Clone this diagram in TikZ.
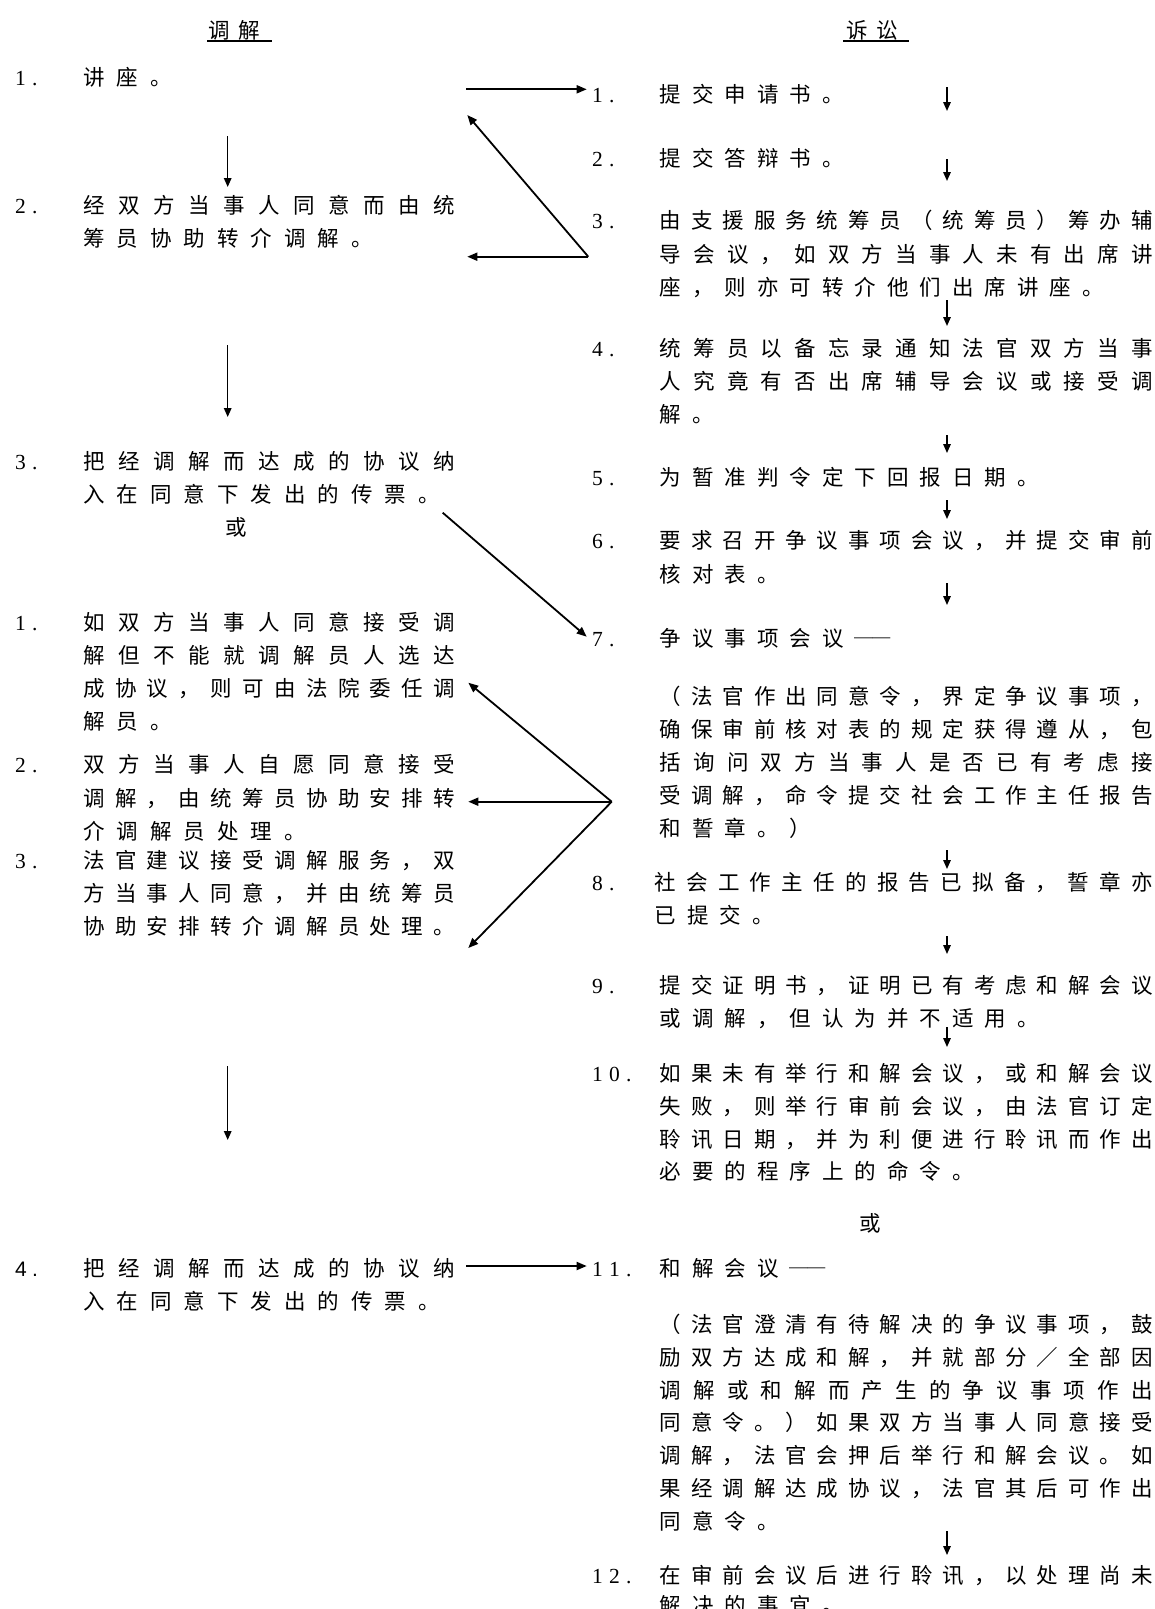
\documentclass[tikz,border=0pt]{standalone}
\usepackage{fontspec}
\usepackage{graphicx}
\setmainfont{Liberation Serif}
\newfontfamily\cjk{Noto Sans CJK SC}
\newfontfamily\sansnum{Liberation Sans}
\usetikzlibrary{arrows.meta}

\makeatletter
\def\jz@end{\jz@end}
\newdimen\jz@pitch
\newcommand\Nsp[2]{\jz@pitch=#1\relax\jz@fix#2\jz@end}
\def\jz@fix#1{\ifx#1\jz@end\else\hbox to\jz@pitch{#1\hss}\expandafter\jz@fix\fi}
\newcommand\Jsp[2]{\hbox to #1{\jz@jfirst#2\jz@end}}
\def\jz@jfirst#1{#1\jz@jrest}
\def\jz@jrest#1{\ifx#1\jz@end\else\hfill#1\expandafter\jz@jrest\fi}
\makeatother

\def\mydash{\scalebox{0.85}[1]{──}}
\def\WL{372pt}\def\PL{33.5pt}\def\WR{493pt}\def\PR{32.5pt}

\tikzset{
  txt/.style={inner sep=0pt, anchor=west, font=\cjk\fontsize{21.5}{21.5}\selectfont, text height=19pt, text depth=2.6pt},
  txtc/.style={txt, anchor=center},
  numtxt/.style={inner sep=0pt, anchor=west, font=\fontsize{21.5}{21.5}\selectfont, text height=19pt, text depth=2.6pt},
  bigarr/.style={line width=1.8pt, -{Triangle[length=10pt,width=8pt]}},
  downarr/.style={line width=1.5pt, -{Triangle[length=9pt,width=7.5pt]}},
  uline/.style={line width=1.3pt},
}

\newcommand\mLJ[3]{\node[txt] (#1) at (83,#2) {\Jsp{\WL}{#3}};}
\newcommand\mLN[3]{\node[txt] (#1) at (83,#2) {\Nsp{\PL}{#3}};}
\newcommand\mRJ[3]{\node[txt] (#1) at (659.5,#2) {\Jsp{\WR}{#3}};}
\newcommand\mRN[3]{\node[txt] (#1) at (659.5,#2) {\Nsp{\PR}{#3}};}
\newcommand\mLNum[3]{\node[numtxt] (#1) at (15,#2) {\Nsp{17pt}{#3}};}
\newcommand\mRNum[3]{\node[numtxt] (#1) at (592,#2) {\Nsp{17pt}{#3}};}

\begin{document}
\begin{tikzpicture}[x=1pt,y=-1pt]
\useasboundingbox (0,0) rectangle (1155,1609);
\fill[white] (0,0) rectangle (1155,1609);

% ---------- headers ----------
\node[txt] (lh) at (208,30) {\Nsp{30.5pt}{调解}};
\draw[uline] ([xshift=-1pt]lh.south west) -- ([xshift=3pt]lh.south east);
\node[txt] (rh) at (846,30) {\Nsp{30.5pt}{诉讼}};
\draw[uline] ([xshift=-3pt]rh.south west) -- ([xshift=2pt]rh.south east);

% ---------- left column ----------
\mLNum{ln1}{77}{1.}
\mLN{l1a}{77}{讲座。}
\mLNum{ln2}{205}{2.}
\mLJ{l2a}{205}{经双方当事人同意而由统}
\mLN{l2b}{238}{筹员协助转介调解。}
\mLNum{ln3}{461}{3.}
\mLJ{l3a}{461}{把经调解而达成的协议纳}
\mLN{l3b}{494}{入在同意下发出的传票。}
\node[txtc] (lor) at (236,527) {或};
\mLNum{ln1b}{622}{1.}
\mLJ{l1ba}{622}{如双方当事人同意接受调}
\mLJ{l1bb}{655}{解但不能就调解员人选达}
\mLJ{l1bc}{688}{成协议，则可由法院委任调}
\mLN{l1bd}{721}{解员。}
\mLNum{ln2b}{764}{2.}
\mLJ{l2ba}{764}{双方当事人自愿同意接受}
\mLJ{l2bb}{798}{调解，由统筹员协助安排转}
\mLN{l2bc}{831}{介调解员处理。}
\mLNum{ln3b}{860}{3.}
\mLJ{l3ba}{860}{法官建议接受调解服务，双}
\mLJ{l3bb}{893}{方当事人同意，并由统筹员}
\mLJ{l3bc}{926}{协助安排转介调解员处理。}
\node[numtxt, font=\sansnum\fontsize{21}{21}\selectfont] (ln4) at (15,1268) {\Nsp{17pt}{4.}};
\mLJ{l4a}{1268}{把经调解而达成的协议纳}
\mLN{l4b}{1301}{入在同意下发出的传票。}

% left vertical arrows
\coordinate (la1s) at (227.7,136); \coordinate (la1e) at (227.7,187);
\coordinate (la2s) at (227.7,345); \coordinate (la2e) at (227.7,417);
\coordinate (la3s) at (227.7,1066); \coordinate (la3e) at (227.7,1140);
\draw[downarr] (la1s) -- (la1e);
\draw[downarr] (la2s) -- (la2e);
\draw[downarr] (la3s) -- (la3e);

% ---------- right column ----------
\mRNum{rn1}{94}{1.}
\mRN{r1a}{94}{提交申请书。}
\mRNum{rn2}{158}{2.}
\mRN{r2a}{158}{提交答辩书。}
\mRNum{rn3}{220.5}{3.}
\mRJ{r3a}{220.5}{由支援服务统筹员（统筹员）筹办辅}
\mRJ{r3b}{254}{导会议，如双方当事人未有出席讲}
\mRN{r3c}{287}{座，则亦可转介他们出席讲座。}
\mRNum{rn4}{348}{4.}
\mRJ{r4a}{348}{统筹员以备忘录通知法官双方当事}
\mRJ{r4b}{381.5}{人究竟有否出席辅导会议或接受调}
\mRN{r4c}{414.5}{解。}
\mRNum{rn5}{477}{5.}
\mRN{r5a}{477}{为暂准判令定下回报日期。}
\mRNum{rn6}{540.5}{6.}
\mRJ{r6a}{540.5}{要求召开争议事项会议，并提交审前}
\mRN{r6b}{574}{核对表。}
\mRNum{rn7}{638}{7.}
\mRN{r7a}{638}{争议事项会议\mydash}
\mRJ{r7b}{696.5}{（法官作出同意令，界定争议事项，}
\mRJ{r7c}{729.3}{确保审前核对表的规定获得遵从，包}
\mRJ{r7d}{762}{括询问双方当事人是否已有考虑接}
\mRJ{r7e}{795}{受调解，命令提交社会工作主任报告}
\mRN{r7f}{828}{和誓章。）}
\mRNum{rn8}{882}{8.}
\node[txt] (r8a) at (654.5,882) {\Jsp{498pt}{社会工作主任的报告已拟备，誓章亦}};
\node[txt] (r8b) at (654.5,915) {\Nsp{\PR}{已提交。}};
\mRNum{rn9}{985.7}{9.}
\mRJ{r9a}{985.7}{提交证明书，证明已有考虑和解会议}
\mRN{r9b}{1018.6}{或调解，但认为并不适用。}
\mRNum{rn10}{1073}{10.}
\mRJ{r10a}{1073}{如果未有举行和解会议，或和解会议}
\mRJ{r10b}{1106}{失败，则举行审前会议，由法官订定}
\mRJ{r10c}{1139}{聆讯日期，并为利便进行聆讯而作出}
\mRN{r10d}{1171.5}{必要的程序上的命令。}
\node[txtc] (ror) at (870,1223) {或};
\mRNum{rn11}{1268}{11.}
\mRN{r11a}{1268}{和解会议\mydash}
\mRJ{r11b}{1324}{（法官澄清有待解决的争议事项，鼓}
\mRJ{r11c}{1357}{励双方达成和解，并就部分／全部因}
\mRJ{r11d}{1390}{调解或和解而产生的争议事项作出}
\mRJ{r11e}{1422.7}{同意令。）如果双方当事人同意接受}
\mRJ{r11f}{1455.5}{调解，法官会押后举行和解会议。如}
\mRJ{r11g}{1488.4}{果经调解达成协议，法官其后可作出}
\mRN{r11h}{1521.2}{同意令。}
\mRNum{rn12}{1575}{12.}
\mRJ{r12a}{1575}{在审前会议后进行聆讯，以处理尚未}
\mRN{r12b}{1605}{解决的事宜。}

% right small down arrows
\foreach \nm/\ya/\yb in {ra1/87/111, ra2/159/181, ra3/300/326, ra4/435/453, ra5/500/519, ra6/583/605, ra7/850/869, ra8/936/954, ra9/1027/1047, ra10/1531/1555}{
  \coordinate (\nm s) at (947,\ya);
  \coordinate (\nm e) at (947,\yb);
  \draw[downarr] (\nm s) -- (\nm e);
}

% ---------- cross arrows ----------
\coordinate (cA1) at (466,89.3);   \coordinate (cA2) at (586.7,89.3);
\draw[bigarr] (cA1) -- (cA2);
\coordinate (cBv) at (588.3,256.7);
\coordinate (cBt1) at (467.3,115); \coordinate (cBt2) at (467.3,256.7);
\draw[bigarr] (cBv) -- (cBt1);
\draw[bigarr] (cBv) -- (cBt2);
\coordinate (cC1) at (442.7,512.7); \coordinate (cC2) at (586.7,636.7);
\draw[bigarr] (cC1) -- (cC2);
\coordinate (cDv) at (611.7,801.7);
\coordinate (cDt1) at (468.3,682.7); \coordinate (cDt2) at (468.3,801.7); \coordinate (cDt3) at (468.3,948);
\draw[bigarr] (cDv) -- (cDt1);
\draw[bigarr] (cDv) -- (cDt2);
\draw[bigarr] (cDv) -- (cDt3);
\coordinate (cE1) at (466,1266); \coordinate (cE2) at (586.7,1266);
\draw[bigarr] (cE1) -- (cE2);
\end{tikzpicture}
\end{document}
